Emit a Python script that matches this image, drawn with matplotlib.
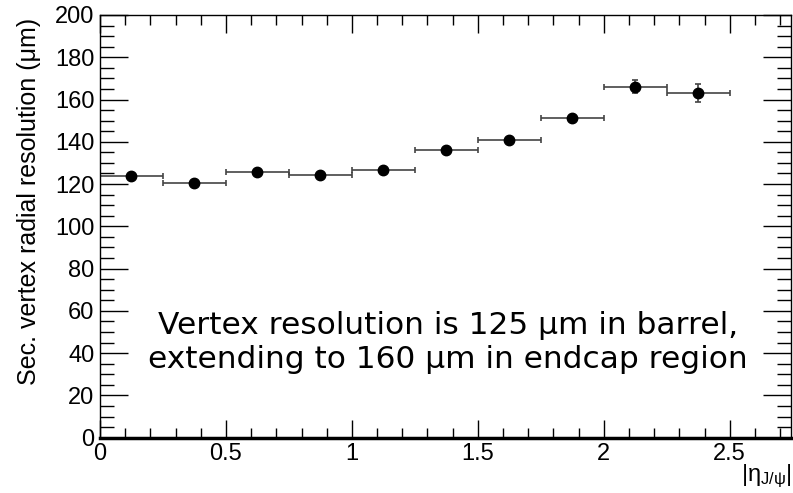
import matplotlib
matplotlib.use("Agg")
import matplotlib.pyplot as plt
from matplotlib.ticker import MultipleLocator
import numpy as np

# |eta| bins and measured resolution (um)
bin_lo = [0.0, 0.25, 0.5, 0.75, 1.0, 1.25, 1.5, 1.75, 2.0, 2.25]
bin_hi = [0.25, 0.5, 0.75, 1.0, 1.25, 1.5, 1.75, 2.0, 2.25, 2.5]
resolution = [124.0, 120.4, 125.7, 124.3, 126.7, 136.3, 140.7, 151.4, 166.1, 163.0]
res_err = [1.0, 1.0, 1.0, 1.0, 1.0, 1.2, 1.3, 1.5, 3.0, 4.3]

x = [(a + b) / 2 for a, b in zip(bin_lo, bin_hi)]
xerr = [(b - a) / 2 for a, b in zip(bin_lo, bin_hi)]

plt.rcParams['font.family'] = ['Liberation Sans', 'DejaVu Sans']
plt.rcParams['mathtext.fontset'] = 'custom'
plt.rcParams['mathtext.rm'] = 'Liberation Sans'

fig = plt.figure(figsize=(7.93, 4.93), dpi=100)
ax = fig.add_axes([0.1261, 0.1122, 0.998 - 0.1261, 0.9696 - 0.1122])

ax.errorbar(x, resolution, xerr=xerr, yerr=res_err, fmt='o', color='black',
            ecolor='#444444', elinewidth=1.2, capsize=2.5, capthick=1.2,
            markersize=7.5)

ax.set_xlim(0, 2.745)
ax.set_ylim(0, 200)

ax.xaxis.set_major_locator(MultipleLocator(0.5))
ax.xaxis.set_minor_locator(MultipleLocator(0.1))
ax.yaxis.set_major_locator(MultipleLocator(20))
ax.yaxis.set_minor_locator(MultipleLocator(5))

ax.tick_params(axis='both', which='both', direction='in', top=True, right=True,
               labelsize=17)
ax.tick_params(axis='x', which='major', length=13, width=1, pad=4)
ax.tick_params(axis='x', which='minor', length=7, width=1)
ax.tick_params(axis='y', which='major', length=20, width=1, pad=4)
ax.tick_params(axis='y', which='minor', length=10, width=1)

ax.set_xticks([0, 0.5, 1, 1.5, 2, 2.5])
ax.set_xticklabels(['0', '0.5', '1', '1.5', '2', '2.5'])

for s in ['top', 'left', 'right']:
    ax.spines[s].set_linewidth(1.0)
ax.spines['bottom'].set_linewidth(2.5)

ax.set_ylabel('Sec. vertex radial resolution (μm)', fontsize=18)
ax.yaxis.set_label_coords(-0.086, 0.56)
ax.set_xlabel(r'$\mathregular{|\eta_{J/\psi}|}$', fontsize=17, labelpad=0)
ax.xaxis.set_label_coords(1.0, -0.058)
ax.xaxis.label.set_horizontalalignment('right')
ax.xaxis.label.set_verticalalignment('top')

ax.text(1.38, 45, 'Vertex resolution is 125 μm in barrel,\nextending to 160 μm in endcap region',
        fontsize=22.5, family='DejaVu Sans', ha='center', va='center',
        linespacing=1.25)

fig.savefig('out.png', dpi=100)
